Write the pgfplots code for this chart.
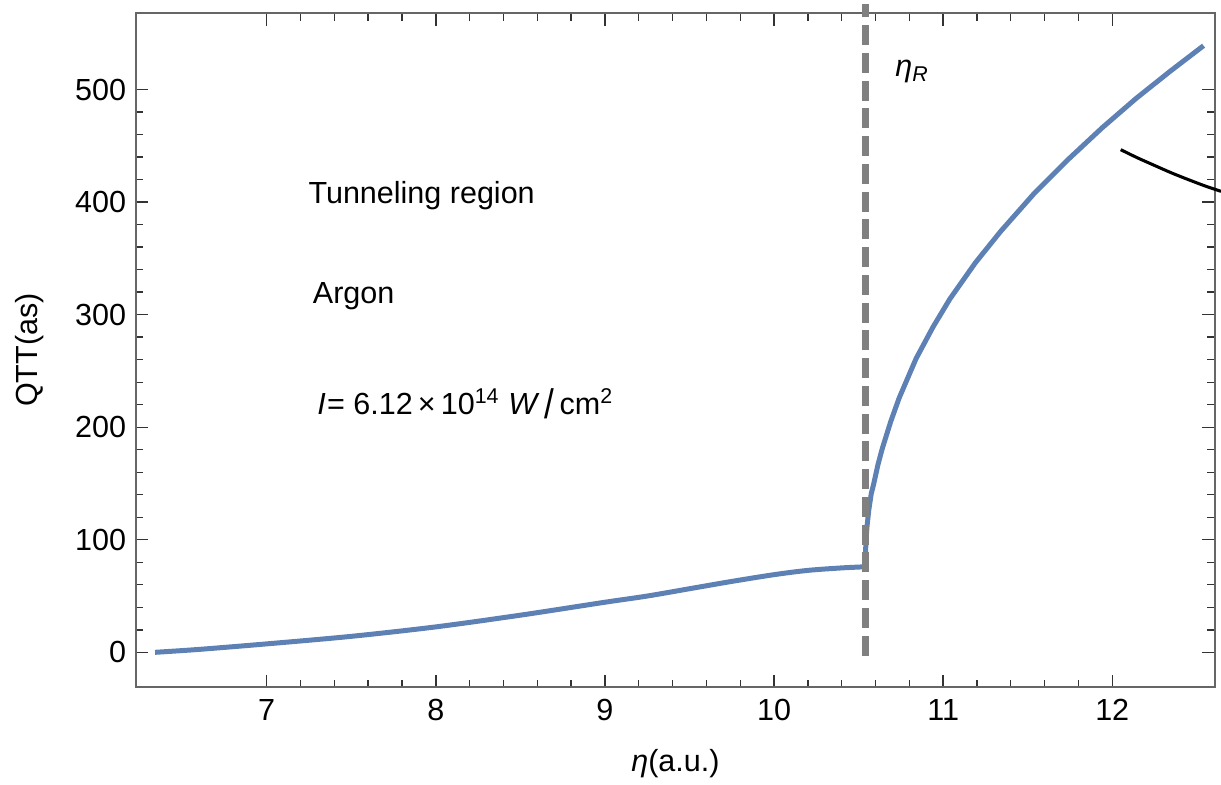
\documentclass[border=0pt]{standalone}
\usepackage{pgfplots}
\pgfplotsset{compat=1.18}
\usepackage{fontspec}
\setmainfont{Liberation Sans}
\definecolor{mblue}{HTML}{5E81B5}
\definecolor{dgray}{HTML}{808080}
\begin{document}
\begin{tikzpicture}
\begin{axis}[name=ax, scale only axis, width=388.8pt, height=242.9pt,
  xmin=6.227, xmax=12.607, ymin=-30.9, ymax=568,
  xtick={7,8,9,10,11,12}, ytick={0,100,200,300,400,500},
  minor x tick num=4, minor y tick num=4,
  tick align=inside, major tick length=4.5pt, minor tick length=2.7pt,
  axis line style={black!60, line width=0.6pt},
  every tick/.append style={black!80, line width=0.5pt},
  every minor tick/.append style={black!80, line width=0.5pt},
  /pgf/number format/assume math mode=true,
  tick label style={font=\fontsize{11}{13}\selectfont},
  label style={font=\fontsize{11}{13}\selectfont},
  xticklabel style={yshift=-1pt},
  xlabel={\textit{η}(a.u.)}, ylabel={QTT(as)},
  xlabel style={at={(axis description cs:0.5,-0.113)}, anchor=center},
  ylabel style={at={(axis description cs:-0.0983,0.5)}, anchor=center},
  clip=false]
% tunneling branch
\addplot[mblue, line width=1.8pt, smooth, line join=round] coordinates {
 (6.34,0) (6.6,2.6) (7.0,7.5) (7.5,14.2) (8.0,22.6) (8.5,33) (9.0,44.5)
 (9.25,50) (9.5,56.5) (9.75,63) (10.0,69) (10.2,72.8) (10.4,75) (10.54,76)};
% rising branch
\addplot[mblue, line width=1.8pt, line join=round] coordinates {
 (10.540,76) (10.541,88) (10.543,96) (10.546,104) (10.550,112) (10.560,126)
 (10.575,141) (10.590,150) (10.615,167) (10.640,181) (10.690,205) (10.740,226)
 (10.840,261) (10.940,289) (11.040,314) (11.190,346) (11.340,374) (11.540,408)
 (11.740,438) (11.940,466) (12.140,492) (12.340,516) (12.540,539)};
% black curve
\addplot[black, line width=1.1pt, smooth] coordinates {
 (12.05,446.6) (12.15,439.3) (12.25,432.6) (12.35,426.0) (12.45,420.0) (12.55,414.3) (12.643,409.6)};
% dashed eta_R line
\addplot[dgray, line width=2.4pt, dash pattern=on 7.2pt off 2.8pt] coordinates {
 (10.54,-3) (10.54,576)};
\node[anchor=base west, inner sep=0, font=\fontsize{11}{13}\selectfont] at (axis cs:10.715,511.5) {\textit{η}\textsubscript{\textit{R}}};
\node[anchor=base west, inner sep=0, font=\fontsize{11}{13}\selectfont] at (axis cs:7.244,398.6) {Tunneling region};
\node[anchor=base west, inner sep=0, font=\fontsize{11}{13}\selectfont] at (axis cs:7.27,309.7) {Argon};
\node[anchor=base west, inner sep=0, font=\fontsize{11}{13}\selectfont] at (axis cs:7.296,211.6)
 {\textit{I}\hspace{0.5pt}= 6.12\,×\,10\textsuperscript{14} \textit{W}\,\raisebox{-0.25ex}{\scalebox{1.15}[1.35]{/}}\,cm\textsuperscript{2}};
\end{axis}
\pgfresetboundingbox
\path ([shift={(-49pt,-35pt)}]ax.south west) rectangle ([shift={(2.2pt,4.7pt)}]ax.north east);
\end{tikzpicture}
\end{document}
